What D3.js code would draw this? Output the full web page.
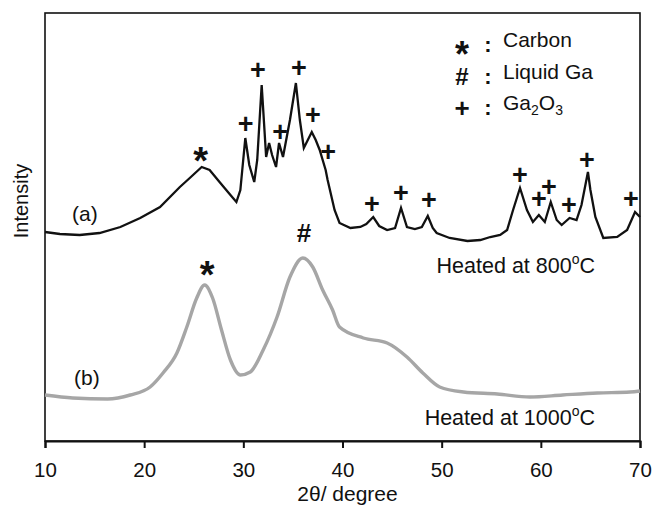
<!DOCTYPE html>
<html>
<head>
<meta charset="utf-8">
<script src="https://cdn.jsdelivr.net/npm/d3@7"></script>
<style>
  body { margin: 0; background: #fff; }
  text { font-family: 'Liberation Sans', Arial, sans-serif; fill: #111; }
</style>
</head>
<body>
<svg width="653" height="507"></svg>
<script>
// pattern (a): heated at 800 C
const angleA = [10.0, 11.5, 13.5, 15.5, 17.6, 19.6, 21.6, 23.6, 24.6, 25.8, 26.6, 27.6, 28.7, 29.3, 29.7,
  30.2, 30.6, 31.1, 31.4, 31.85, 32.3, 32.6, 32.9, 33.3, 33.6, 34.0, 34.7, 35.3, 35.7, 36.1, 36.5,
  36.9, 37.3, 37.7, 38.3, 38.5, 39.2, 39.7, 40.8, 41.8, 42.4, 43.1, 43.7, 44.5, 45.3, 45.9, 46.5,
  47.3, 48.0, 48.6, 49.1, 49.5, 50.8, 52.6, 53.9, 54.9, 55.9, 56.6, 57.2, 57.9, 58.6, 59.2, 59.8,
  60.4, 61.0, 61.6, 62.1, 62.9, 63.6, 64.1, 64.75, 65.0, 65.5, 66.3, 67.7, 68.7, 69.5, 70.0];
const countsA = [209, 207, 206, 208, 214, 223, 234, 254, 263, 274, 271, 259, 246, 239, 251,
  303, 276, 259, 281, 356, 284, 298, 286, 274, 298, 284, 321, 358, 321, 293, 301,
  309, 301, 291, 271, 261, 231, 218, 213, 214, 217, 224, 215, 211, 213, 233, 214,
  212, 214, 225, 213, 208, 203, 200, 201, 204, 206, 211, 231, 253, 231, 219, 226,
  219, 239, 221, 216, 223, 221, 236, 269, 251, 224, 203, 204, 211, 229, 224];

// pattern (b): heated at 1000 C
const angleB = [10.0, 12.8, 16.3, 18.6, 20.6, 21.9, 23.3, 24.3, 25.3, 26.1, 26.9, 27.8, 28.7, 29.7,
  30.7, 32.0, 33.4, 34.7, 36.0, 37.0, 38.0, 39.0, 39.7, 42.1, 44.5, 46.5, 48.1, 49.8, 52.2,
  55.6, 58.9, 62.2, 65.7, 69.0, 70.0];
const countsB = [46, 43, 42, 46, 54, 68, 88, 114, 143, 156, 143, 111, 81, 66,
  69, 91, 124, 164, 183, 174, 151, 131, 114, 103, 98, 84, 68, 54, 49,
  47, 44, 46, 48, 49, 50];

// peak markers
const plusAngles = [30.24, 31.48, 33.70, 35.61, 37.02, 38.54, 42.97, 45.90, 48.72, 57.90, 59.81, 60.82, 62.84, 64.65, 69.09];
const plusLevels = [318, 372, 310, 374, 327, 290, 238, 249, 242, 267, 243, 255, 237, 282, 243];
const carbonMarks = [[25.70, 289], [26.34, 175]];
const galliumMarks = [[36.12, 208]];

const xTicks = [10, 20, 30, 40, 50, 60, 70];
const legendItems = [
  { sym: '*', label: ['Carbon'] },
  { sym: '#', label: ['Liquid Ga'] },
  { sym: '+', label: ['Ga', ['2'], 'O', ['3']] }
];

const svg = d3.select('svg');
const margin = { top: 13, right: 13, bottom: 66, left: 45 };
const width = +svg.attr('width');
const height = +svg.attr('height');
const innerWidth = width - margin.left - margin.right;
const innerHeight = height - margin.top - margin.bottom;

const xScale = d3.scaleLinear().domain([10, 70]).range([0, innerWidth]);
const yScale = d3.scaleLinear().domain([0, 428]).range([innerHeight, 0]);

const g = svg.append('g')
  .attr('transform', `translate(${margin.left},${margin.top})`);

g.append('rect')
  .attr('width', innerWidth)
  .attr('height', innerHeight)
  .attr('fill', 'none')
  .attr('stroke', '#111')
  .attr('stroke-width', 1.6);

const line = d3.line()
  .x(d => xScale(d[0]))
  .y(d => yScale(d[1]));

g.append('path')
  .attr('d', line.curve(d3.curveMonotoneX)(d3.zip(angleB, countsB)))
  .attr('fill', 'none')
  .attr('stroke', '#a6a6a6')
  .attr('stroke-width', 3.4);

g.append('path')
  .attr('d', line.curve(d3.curveLinear)(d3.zip(angleA, countsA)))
  .attr('fill', 'none')
  .attr('stroke', '#111')
  .attr('stroke-width', 2.3);

const xAxis = d3.axisBottom(xScale)
  .tickValues(xTicks)
  .tickSize(7)
  .tickSizeOuter(7)
  .tickPadding(14);

const xAxisG = g.append('g')
  .attr('transform', `translate(0,${innerHeight})`)
  .call(xAxis);
xAxisG.select('.domain').attr('stroke-width', 2).attr('stroke', '#111');
xAxisG.selectAll('.tick line').attr('stroke-width', 2).attr('stroke', '#111');
xAxisG.selectAll('.tick text')
  .attr('font-family', "'Liberation Sans', Arial, sans-serif")
  .attr('font-size', 20.5)
  .attr('fill', '#111');

g.append('text')
  .attr('x', innerWidth / 2 + 5)
  .attr('y', innerHeight + 60)
  .attr('text-anchor', 'middle')
  .attr('font-size', 21)
  .text('2θ/ degree');

g.append('text')
  .attr('transform', `translate(${-17},${188}) rotate(-90)`)
  .attr('text-anchor', 'middle')
  .attr('font-size', 20)
  .text('Intensity');

// symbol characters, vertically centred on a point
const glyph = (sel, ch, size, lift) => sel
  .attr('text-anchor', 'middle')
  .attr('font-weight', 'bold')
  .attr('font-size', size)
  .attr('dy', lift * size)
  .text(ch);

g.selectAll('.plus')
  .data(d3.zip(plusAngles, plusLevels))
  .join('text')
  .attr('class', 'plus')
  .attr('x', d => xScale(d[0]))
  .attr('y', d => yScale(d[1]))
  .call(glyph, '+', 27, 0.36);

g.selectAll('.carbon')
  .data(carbonMarks)
  .join('text')
  .attr('class', 'carbon')
  .attr('x', d => xScale(d[0]))
  .attr('y', d => yScale(d[1]))
  .call(glyph, '*', 38, 0.58);

g.selectAll('.gallium')
  .data(galliumMarks)
  .join('text')
  .attr('class', 'gallium')
  .attr('x', d => xScale(d[0]))
  .attr('y', d => yScale(d[1]))
  .call(glyph, '#', 26, 0.36);

// curve labels
g.append('text').attr('x', 27).attr('y', 208).attr('font-size', 21).text('(a)');
g.append('text').attr('x', 29).attr('y', 372).attr('font-size', 21).text('(b)');

const heated = (y, temp) => {
  const t = g.append('text')
    .attr('x', 550)
    .attr('y', y)
    .attr('text-anchor', 'end')
    .attr('font-size', 21.5);
  t.append('tspan').text(`Heated at ${temp}`);
  t.append('tspan').attr('font-size', 14).attr('dy', -9).text('o');
  t.append('tspan').attr('dy', 9).text('C');
};
heated(260, 800);
heated(412, 1000);

// legend
const legend = g.append('g').attr('transform', 'translate(416,39)');
const rows = legend.selectAll('g')
  .data(legendItems)
  .join('g')
  .attr('transform', (d, i) => `translate(0,${i * 31.5})`);

rows.append('text')
  .attr('x', 1)
  .attr('y', d => d.sym === '*' ? -6 : -7)
  .each(function (d) {
    const s = d.sym === '*' ? 36 : d.sym === '+' ? 26 : 24;
    const lift = d.sym === '*' ? 0.58 : 0.36;
    d3.select(this).call(glyph, d.sym, s, lift);
  });

rows.append('text')
  .attr('x', 27)
  .attr('text-anchor', 'middle')
  .attr('font-weight', 'bold')
  .attr('font-size', 22)
  .text(':');

rows.append('text')
  .attr('x', 42)
  .attr('font-size', 21)
  .each(function (d) {
    const t = d3.select(this);
    d.label.forEach(part => {
      if (Array.isArray(part)) {
        t.append('tspan').attr('font-size', 14).attr('dy', 5).text(part[0]);
      } else {
        t.append('tspan').attr('dy', t.selectAll('tspan').size() ? -5 : 0).text(part);
      }
    });
  });
</script>
</body>
</html>
